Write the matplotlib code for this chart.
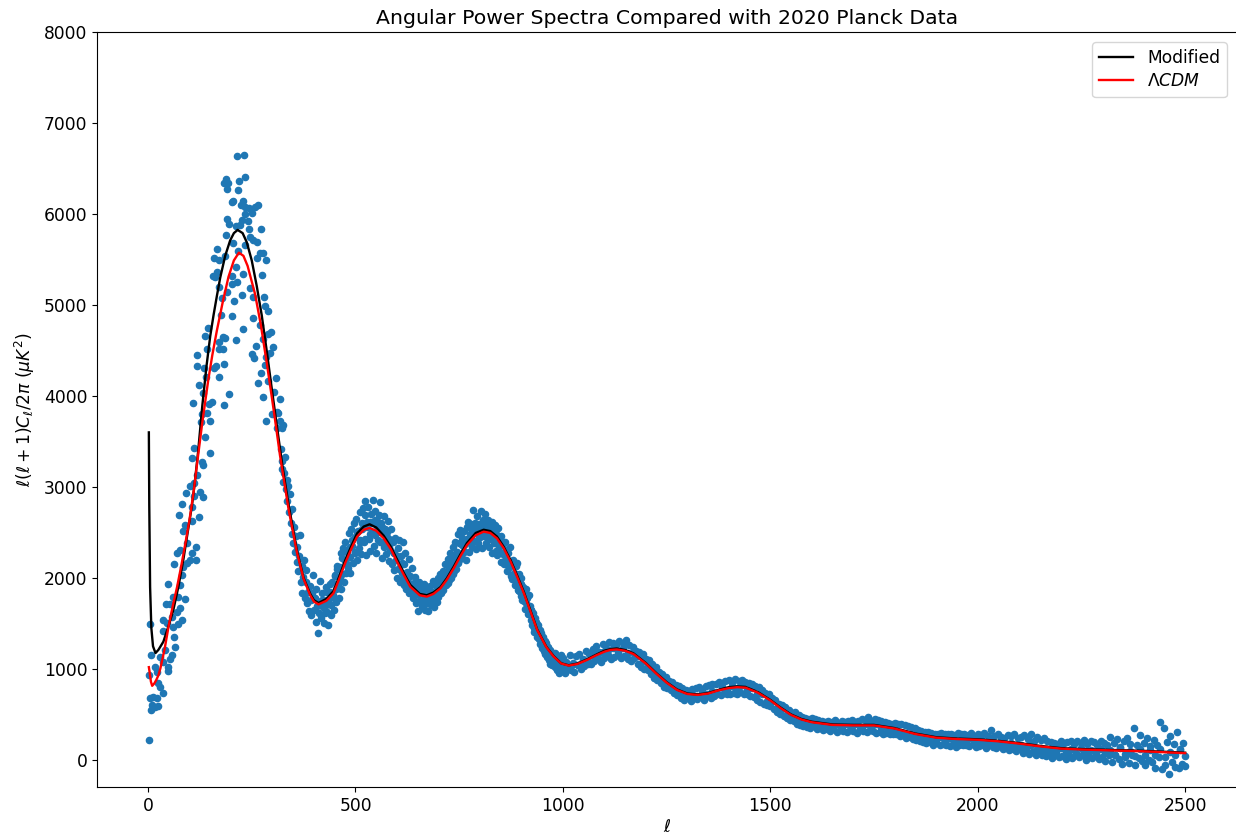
import numpy as np
import matplotlib
matplotlib.use("Agg")
import matplotlib.pyplot as plt

# --- scattered low-multipole data (ell, D_ell)
low_ell = [2, 3, 5, 5, 7, 8, 10, 13, 17, 17, 21, 21, 23, 25, 29, 29, 35, 35, 37, 37, 41, 43, 45, 49, 49, 49, 53, 53, 57, 57,
           61, 61, 63, 63, 65, 69, 71, 73, 73, 75, 77, 77, 77, 81, 83, 83, 85, 85, 88, 89, 92, 93, 95, 100, 101, 106, 106, 107, 107, 109,
           111, 111, 111, 115, 116, 117, 117, 117, 122, 123, 125, 127, 130, 130, 132, 132, 133, 135, 137, 138, 140, 143, 143, 144, 146, 150, 150, 154, 156, 158,
           159, 162, 163, 167, 167, 170, 170, 171, 171, 172, 175, 178, 180, 180, 182, 183, 183, 186, 186, 187, 187, 190, 190, 191, 192, 195, 196, 202, 202, 203,
           203, 206, 206, 208, 211, 211, 212, 214, 215, 218, 218, 220, 222, 225, 226, 226, 228, 229, 230, 232, 234, 234, 234, 234, 240, 243, 244, 246, 246, 250,
           250, 253, 254, 254, 256, 257, 260, 262, 262, 264, 265, 269, 270, 272, 273, 275, 278, 278, 278, 280, 281, 282, 284, 285, 285, 289, 290, 290, 294, 297,
           298, 301, 304, 308, 310, 310, 314, 317, 319, 322, 326]
low_D = [220, 934, 1491, 685, 550, 1151, 604, 696, 1025, 586, 967, 678, 597, 843, 1135, 806, 1539, 733, 1421, 1077, 1209, 1711, 1502, 1934, 1025, 978, 1711, 1107, 1575, 1154,
         1795, 1465, 1355, 2157, 1245, 1630, 2271, 1795, 1495, 2693, 2308, 1923, 1667, 2033, 2813, 1539, 2125, 2520, 1769, 2583, 2931, 2161, 2381, 3011, 2198, 2784, 2630, 3316, 2271, 3927,
         3425, 3041, 2901, 2337, 2198, 3132, 4454, 4330, 2667, 4118, 2949, 3715, 3278, 3799, 3242, 4030, 2887, 4305, 3553, 4663, 4213, 3810, 4514, 4751, 3912, 3722, 3377, 3938, 5319, 4305,
         5517, 5308, 4330, 5616, 5363, 5495, 4514, 4594, 4213, 5202, 4887, 5074, 4652, 4520, 6345, 4349, 3905, 5539, 4634, 6385, 5766, 6275, 5147, 5945, 6337, 5890, 4022, 6136, 5231, 4876,
         5319, 6143, 5678, 5041, 5418, 4616, 5869, 5257, 6638, 6268, 5597, 6367, 5883, 6103, 5935, 5110, 6147, 4733, 5341, 6645, 6404, 6081, 6000, 5660, 5927, 6067, 5836, 5744, 5184, 6008,
         4458, 5085, 5715, 4861, 4415, 6081, 4553, 5693, 5513, 6103, 4140, 5575, 4781, 4250, 5836, 5327, 5568, 4623, 3989, 5085, 4338, 4993, 5495, 4433, 3729, 4931, 4678, 4169, 4476, 4707,
         3799, 4542, 4044, 4198, 3645, 3820, 3817, 3964, 3729, 3645, 3678]

# --- data above ell = 320, one list per stretch of multipoles
y_320 = [3420, 3200, 3290, 3060, 3150, 3330, 2980, 3080, 2850, 3010,
         2720, 2920, 2600, 2480, 2760, 2380, 2560, 2290, 2460, 2180,
         2340, 2080, 2240, 2470, 1960, 2130, 1830, 2010, 2200, 1780,
         1960, 2090, 1720, 1850, 1640, 1910, 1760, 1590, 1830, 2030,
         1650, 1780, 1520, 1880, 1690, 1400, 1620, 1970, 1750, 1560,
         1830, 1680, 1500, 1610, 1760, 1900, 1630, 1480, 1720, 1850,
         1700, 1590, 1960, 1810, 1650, 2030, 1880, 1740, 2100, 1920,
         1780, 2120, 2270, 1880, 2040, 2330, 1960, 2190, 2400, 2060,
         2290, 2110, 2490, 2230, 2060, 2540, 2350, 2170, 2600, 2280,
         2450, 2650, 2200, 2520, 2330, 2730, 2420, 2260, 2600, 2770]
y_520 = [2400, 2690, 2850, 2250, 2560, 2780, 2430, 2620, 2300, 2700,
         2500, 2860, 2350, 2640, 2740, 2280, 2570, 2420, 2690, 2840,
         2390, 2600, 2220, 2500, 2680, 2340, 2540, 2260, 2450, 2630,
         2190, 2430, 2310, 2540, 2150, 2400, 2270, 2090, 2440, 2200,
         2000, 2330, 2110, 2420, 1960, 2240, 2050, 2390, 1920, 2150,
         2270, 1880, 2070, 1960, 2210, 1830, 2020, 1900, 2110, 1780,
         1950, 1850, 2010, 1720, 1900, 1640, 1820, 1960, 1750, 1880,
         1690, 1850, 1760, 1930, 1650, 1800, 1720, 1880, 1640, 1790,
         1910, 1700, 1850, 1760, 1970, 1680, 1820, 1920, 1740, 2000,
         1790, 1930, 2040, 1840, 1960, 2080, 1870, 2020, 2150, 1920]
y_720 = [2080, 2210, 1950, 2120, 2280, 2000, 2170, 2340, 2040, 2230,
         2400, 2100, 2290, 2480, 2170, 2380, 2530, 2230, 2440, 2510,
         2270, 2520, 2370, 2200, 2560, 2400, 2620, 2290, 2480, 2590,
         2340, 2540, 2750, 2410, 2600, 2320, 2500, 2680, 2380, 2590,
         2450, 2740, 2560, 2330, 2640, 2480, 2700, 2380, 2590, 2450,
         2640, 2340, 2550, 2430, 2610, 2280, 2520, 2380, 2580, 2300,
         2480, 2250, 2550, 2340, 2430, 2180, 2460, 2280, 2370, 2150,
         2400, 2200, 2310, 2080, 2270, 2120, 2340, 2020, 2180, 1990,
         2200, 2050, 1920, 2130, 1980, 2170, 1870, 2040, 1910, 1800,
         2000, 1760, 1900, 1830, 1660, 1880, 1720, 1780, 1600, 1810]
y_920 = [1690, 1540, 1650, 1480, 1620, 1410, 1560, 1440, 1520, 1350,
         1480, 1340, 1430, 1270, 1400, 1230, 1350, 1200, 1310, 1170,
         1290, 1130, 1240, 1100, 1210, 1060, 1180, 1040, 1170, 1080,
         1180, 1020, 1140, 990, 1090, 960, 1120, 1010, 1150, 980]
y_420_core = [1760, 1690, 1850, 1930, 1790, 2020, 2130, 1990, 2220, 2300,
              2150, 2340, 2420, 2290, 2500, 2390, 2540, 2430, 2620, 2480,
              2600, 2470, 2630, 2500, 2560, 2390, 2500, 2340, 2420, 2270,
              2240, 2100, 2160, 2000, 2040, 1890, 1930, 1800, 1870, 1750,
              1830, 1740, 1850, 1760, 1840, 1820, 1900, 1850, 2000, 1940,
              2060, 1980, 2170, 2080, 2270, 2200, 2360, 2300, 2430, 2390,
              2490, 2410, 2550, 2460, 2570, 2460, 2540, 2470, 2520, 2400,
              2470, 2350, 2380, 2250, 2290, 2120, 2190, 1990, 2040, 1860,
              1930, 1750, 1790, 1600, 1650, 1450, 1500, 1330, 1360, 1220,
              1260, 1150, 1190, 1100, 1120, 1040, 1070, 1010]
y_1000 = [1120, 960, 1080, 1000, 1150, 990, 1060, 970, 1140, 1040,
          1170, 1000, 1110, 1030, 1200, 1050, 1160, 1060, 1220, 1090,
          1250, 1110, 1190, 1080, 1270, 1120, 1230, 1150, 1300, 1110,
          1280, 1130, 1260, 1150, 1310, 1120, 1290, 1140, 1320, 1110,
          1260, 1090, 1240, 1120, 1200, 1060, 1190, 1020, 1170, 1000]
y_1200 = [1110, 990, 1100, 950, 1050, 900, 1020, 880, 970, 850,
          940, 800, 910, 790, 870, 770, 860, 740, 820, 710,
          810, 680, 790, 660, 770, 690, 760, 650, 780, 680,
          790, 670, 800, 690, 770, 660, 810, 700, 820, 680,
          840, 700, 830, 720, 860, 710, 850, 740, 870, 730]
y_1400 = [880, 730, 860, 740, 890, 720, 870, 750, 880, 730,
          860, 720, 850, 700, 840, 690, 810, 660, 800, 640,
          770, 620, 740, 600, 720, 590, 680, 560, 660, 530,
          620, 510, 600, 480, 580, 460, 550, 440, 520, 430,
          530, 400, 490, 380, 470, 370, 460, 360, 450, 350]
y_1600 = [460, 370, 450, 340, 440, 350, 430, 330, 420, 340,
          430, 320, 420, 340, 440, 310, 410, 330, 430, 320,
          420, 310, 430, 330, 440, 320, 420, 300, 430, 340,
          450, 320, 440, 310, 470, 330, 430, 320, 450, 300,
          440, 310, 430, 290, 420, 300, 410, 280, 400, 290]
y_1800 = [410, 280, 390, 260, 400, 270, 380, 240, 370, 250,
          360, 230, 350, 220, 330, 210, 320, 200, 310, 190,
          310, 200, 300, 170, 290, 190, 280, 160, 300, 180,
          290, 170, 280, 150, 290, 180, 270, 140, 300, 160,
          290, 160, 280, 170, 270, 150, 300, 180, 260, 140]
y_2000 = [280, 150, 270, 170, 300, 130, 260, 160, 330, 140,
          260, 130, 280, 150, 250, 120, 240, 140, 270, 110,
          260, 120, 290, 100, 240, 130, 250, 80, 270, 110,
          230, 70, 280, 90, 210, 60, 250, 100, 220, 50,
          240, 40, 210, 70, 200, 20, 190, 60, 180, 30]
y_2200 = [210, 40, 190, 10, 200, 60, 210, 20, 180, 50,
          210, 30, 190, 60, 220, 0, 180, 40, 210, 20,
          200, 50, 170, 10, 210, 30, 190, -10, 160, 60,
          250, -20, 190, 50, 230, 10, 140, -40, 210, 30,
          240, -30, 180, 60, 350, -50, 160, 20, 270, -10]
y_2400 = [190, -60, 240, 0, 150, -20, 220, -90, 170, 30,
          420, -100, 350, -60, 200, -150, 260, -20, 180, -80,
          310, -90, 120, -40, 190, -70]
y_1000_core = [1050, 1030, 1070, 1040, 1100, 1090, 1150, 1160, 1190, 1210,
               1230, 1190, 1230, 1180, 1190, 1140, 1090, 1050, 1010, 960,
               900, 860, 800, 780, 740, 760, 720, 700, 740, 720,
               760, 740, 800, 770, 810, 790, 820, 770, 790, 720,
               720, 650, 650, 570, 560, 490, 470, 430, 420, 400,
               400, 420, 380, 390, 370, 390, 360, 400, 370, 390,
               360, 400, 380, 390, 350, 360, 330, 300, 300, 260,
               290, 260, 260, 240, 260, 220, 250, 220, 240, 210,
               230, 200, 240, 210, 230, 190, 220, 180, 210, 170,
               190, 160, 170, 130, 160, 110, 130, 100, 120, 90,
               130, 90, 120, 80, 130, 100, 110, 80, 120, 90,
               110, 60, 130, 70, 100, 40, 120, 60, 110, 50,
               120, 30, 90, 60, 110, 40]

# --- model curves
lcdm_ell = [2, 4, 7, 10, 15, 20, 25, 30, 40, 50, 60, 70, 80, 90, 100, 110, 120, 130, 145, 155, 166, 180, 194, 207, 219, 230, 240, 258, 272, 286,
            298, 308, 318, 339, 359, 375, 391, 400, 411, 430, 447, 460, 475, 490, 504, 520, 534, 550, 568, 585, 600, 616, 632, 655, 672, 688, 705, 720, 737, 753,
            769, 790, 809, 825, 841, 857, 874, 890, 906, 922, 938, 960, 978, 996, 1014, 1035, 1058, 1080, 1100, 1115, 1130, 1150, 1170, 1200, 1225, 1250, 1275, 1300, 1325, 1350,
            1375, 1400, 1420, 1440, 1470, 1500, 1525, 1550, 1575, 1600, 1650, 1700, 1750, 1800, 1850, 1900, 1950, 2000, 2050, 2100, 2150, 2200, 2250, 2300, 2400, 2500]
lcdm_D = [1020, 960, 860, 815, 840, 880, 930, 1010, 1220, 1480, 1700, 1900, 2130, 2380, 2640, 2950, 3320, 3680, 4170, 4450, 4720, 5030, 5310, 5490, 5575, 5540, 5430, 5120, 4780, 4370,
          4000, 3680, 3350, 2750, 2280, 1990, 1810, 1740, 1710, 1750, 1832, 1980, 2161, 2320, 2454, 2530, 2550, 2520, 2436, 2320, 2180, 2040, 1905, 1810, 1795, 1825, 1887, 1980, 2107, 2240,
          2363, 2470, 2509, 2495, 2436, 2330, 2180, 2010, 1832, 1630, 1429, 1240, 1135, 1060, 1037, 1055, 1099, 1150, 1190, 1210, 1215, 1200, 1165, 1060, 950, 850, 770, 725, 715, 730,
          765, 790, 800, 795, 740, 655, 570, 495, 445, 415, 385, 380, 380, 345, 285, 245, 230, 222, 205, 180, 150, 125, 115, 108, 95, 75]
mod_ell = [2, 3, 5, 8, 12, 18, 25, 37, 50, 61, 73, 85, 106, 113, 121, 131, 141, 150, 158, 166, 174, 186, 198, 207, 216, 228, 238, 250, 262, 274,
           286, 298, 310, 324, 339, 359, 375, 391, 400, 411, 430, 447, 460, 475, 490, 504, 520, 534, 550, 568, 585, 600, 616, 632, 655, 672, 688, 705, 720, 737,
           753, 769, 790, 809, 825, 841, 857, 874, 890, 906, 922, 938, 960, 978, 996, 1014, 1035, 1058, 1080, 1100, 1115, 1130, 1150, 1170, 1200, 1225, 1250, 1275, 1300, 1325,
           1350, 1375, 1400, 1420, 1440, 1470, 1500, 1525, 1550, 1575, 1600, 1650, 1700, 1750, 1800, 1850, 1900, 1950, 2000, 2050, 2100, 2150, 2200, 2250, 2300, 2400, 2500]
mod_D = [3600, 2800, 1900, 1450, 1250, 1175, 1210, 1300, 1480, 1648, 1900, 2198, 2800, 3060, 3400, 3900, 4330, 4660, 4890, 5100, 5300, 5540, 5710, 5790, 5825, 5790, 5690, 5490, 5210, 4890,
         4500, 4090, 3690, 3230, 2800, 2300, 2000, 1825, 1755, 1725, 1770, 1855, 2005, 2190, 2350, 2490, 2565, 2590, 2555, 2465, 2345, 2205, 2060, 1925, 1825, 1810, 1840, 1900, 1995, 2125,
         2260, 2385, 2495, 2530, 2515, 2455, 2345, 2195, 2025, 1845, 1640, 1435, 1245, 1140, 1062, 1040, 1060, 1105, 1156, 1200, 1218, 1225, 1208, 1172, 1065, 955, 855, 775, 730, 720,
         735, 770, 800, 808, 803, 746, 660, 575, 500, 450, 420, 390, 385, 385, 350, 290, 250, 235, 227, 210, 185, 155, 130, 120, 113, 100, 80]

title = "Angular Power Spectra Compared with 2020 Planck Data"
xlabel = r"$\ell$"
ylabel = r"$\ell(\ell+1)C_{\ell}/2\pi\ (\mu K^2)$"
xticks = [0, 500, 1000, 1500, 2000, 2500]
yticks = [0, 1000, 2000, 3000, 4000, 5000, 6000, 7000, 8000]


def run(start, step, values):
    return start + step * np.arange(len(values))


W, H = 1236, 836
fig = plt.figure(figsize=(W / 100, H / 100), dpi=100)
ax = fig.add_axes([97 / W, 1 - 787 / H, 1140 / W, 755 / H])

xs = np.concatenate([low_ell, run(320, 2, y_320), run(520, 2, y_520), run(720, 2, y_720), run(920, 2, y_920),
                     run(420, 6, y_420_core), run(1000, 12, y_1000_core),
                     run(1000, 4, y_1000), run(1200, 4, y_1200), run(1400, 4, y_1400), run(1600, 4, y_1600),
                     run(1800, 4, y_1800), run(2000, 4, y_2000), run(2200, 4, y_2200), run(2400, 4, y_2400)])
ys = np.concatenate([low_D, y_320, y_520, y_720, y_920, y_420_core, y_1000_core,
                     y_1000, y_1200, y_1400, y_1600, y_1800, y_2000, y_2200, y_2400])

ax.scatter(xs, ys, s=20, color="#1f77b4")
ax.plot(mod_ell, mod_D, color="black", lw=1.7, label="Modified")
ax.plot(lcdm_ell, lcdm_D, color="red", lw=1.7, label=r"$\Lambda CDM$")

ax.set_xlim(-123, 2625)
ax.set_ylim(-297, 8000)
ax.set_xticks(xticks)
ax.set_yticks(yticks)
ax.tick_params(labelsize=12.3)
ax.set_title(title, fontsize=14.7, pad=5.5)
ax.set_xlabel(xlabel, fontsize=12.3, labelpad=2)
ax.set_ylabel(ylabel, fontsize=12.3, labelpad=5)
ax.legend(loc="upper right", fontsize=12.3, borderaxespad=0.6, labelspacing=0.3)

fig.savefig("out.png", dpi=100)
